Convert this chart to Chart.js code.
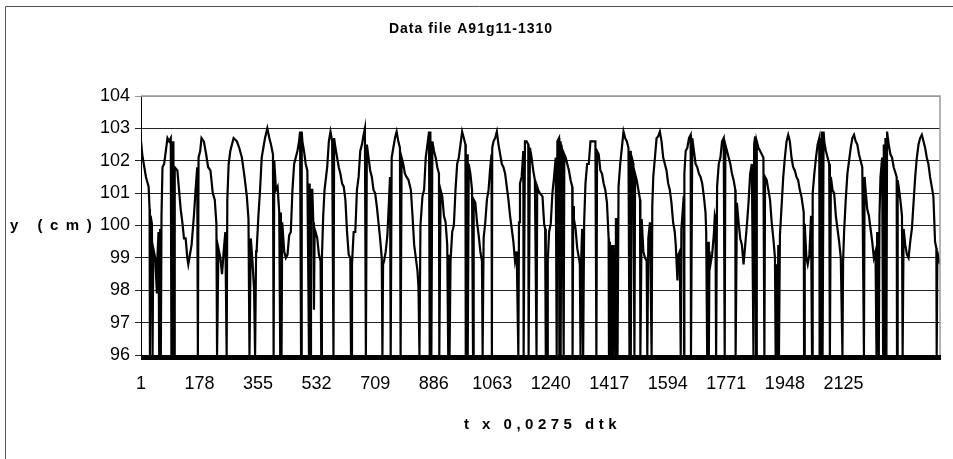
<!DOCTYPE html>
<html lang="en">
<head>
  <meta charset="UTF-8" />
  <title>Data file A91g11-1310</title>
  <script src="https://cdn.jsdelivr.net/npm/chart.js"></script>
  <style>
    html, body { margin: 0; padding: 0; background: #fff; }
    #wrap { width: 953px; height: 459px; }
  </style>
</head>
<body>
  <div id="wrap"><canvas id="waveChart" width="953" height="459"></canvas></div>

  <script>
    // samples (sample number, level in cm); 96 = drop-out
    const sampleNo = [
      1, 6, 11, 16, 24, 27, 28, 30, 34, 36, 38, 44, 49, 51, 54, 56, 59, 61, 63, 66, 71, 76, 81, 86, 91, 93, 95, 97, 99, 101, 103, 111, 116, 121, 126, 131, 136, 141, 144, 149, 154, 161, 166, 171, 173, 175, 180, 184, 191, 198, 204, 211, 218, 224, 229, 231, 235, 241, 246, 251, 256, 260, 262, 266, 271, 281, 291, 298, 306, 314, 321, 326, 329, 333, 338, 343, 346, 349, 351, 356, 361, 366, 371, 376, 383, 389,
      394, 400, 402, 404, 409, 414, 419, 422, 424, 426, 428, 434, 439, 444, 449, 454, 459, 464, 469, 474, 479, 482, 485, 487, 489, 494, 499, 504, 509, 511, 513, 515, 519, 522, 524, 526, 529, 534, 539, 544, 546, 548, 552, 556, 564, 569, 574, 579, 583, 585, 589, 594, 599, 604, 609, 614, 619, 624, 629, 634, 636, 639, 644, 649, 654, 659, 664, 669, 674, 678, 681, 684, 689, 694, 699, 704, 709, 714, 719, 724, 729, 731, 733, 736, 741, 746, 751, 754, 756, 759, 764, 769, 774, 779, 784, 786, 789, 794, 799, 804,
      810, 817, 822, 827, 832, 837, 840, 843, 846, 852, 857, 862, 867, 872, 874, 876, 879, 882, 887, 892, 897, 902, 903, 907, 912, 917, 922, 927, 930, 932, 934, 937, 942, 947, 952, 957, 962, 967, 972, 977, 982, 983, 987, 989, 992, 997, 1002, 1005, 1007, 1012, 1017, 1022, 1027, 1032, 1034, 1037, 1042, 1047, 1052, 1057, 1061, 1062, 1063, 1067, 1072, 1077, 1082, 1087, 1092, 1097, 1102, 1107, 1112, 1117, 1122, 1127, 1132, 1137, 1142, 1144, 1147, 1152, 1157, 1158, 1162, 1167, 1172, 1173, 1177, 1182, 1187, 1192, 1197, 1199, 1202, 1207,
      1215, 1220, 1223, 1225, 1227, 1229, 1231, 1235, 1240, 1245, 1250, 1255, 1258, 1260, 1265, 1266, 1268, 1270, 1272, 1275, 1279, 1281, 1285, 1290, 1295, 1300, 1305, 1306, 1308, 1310, 1315, 1320, 1325, 1328, 1330, 1332, 1335, 1338, 1341, 1345, 1350, 1355, 1360, 1365, 1370, 1375, 1378, 1380, 1385, 1390, 1395, 1400, 1405, 1410, 1415, 1416, 1419, 1422, 1425, 1428, 1430, 1435, 1437, 1440, 1442, 1445, 1450, 1455, 1460, 1465, 1470, 1475, 1478, 1480, 1482, 1485, 1490, 1493, 1495, 1500, 1505, 1510, 1511, 1515, 1520, 1525, 1530, 1532, 1535, 1540, 1545, 1547, 1550, 1555, 1560, 1565, 1570, 1575, 1580, 1585, 1590, 1595, 1600, 1605, 1610, 1615,
      1618, 1623, 1626, 1630, 1633, 1635, 1638, 1642, 1643, 1644, 1648, 1653, 1658, 1663, 1664, 1668, 1673, 1678, 1683, 1688, 1693, 1698, 1703, 1708, 1710, 1713, 1716, 1718, 1720, 1723, 1728, 1733, 1736, 1738, 1740, 1743, 1748, 1753, 1758, 1763, 1766, 1768, 1773, 1778, 1783, 1788, 1793, 1798, 1799, 1803, 1808, 1813, 1818, 1823, 1828, 1833, 1838, 1843, 1848, 1853, 1855, 1858, 1861, 1863, 1868, 1873, 1878, 1883, 1886, 1888, 1893, 1898, 1903, 1908, 1913, 1918, 1920, 1923, 1925, 1928, 1930, 1933, 1938, 1943, 1948, 1953, 1958, 1963, 1968, 1973, 1978, 1983, 1988, 1993, 1998, 2005, 2006, 2008, 2013,
      2017, 2022, 2027, 2030, 2032, 2037, 2042, 2047, 2052, 2053, 2055, 2057, 2060, 2062, 2065, 2067, 2072, 2077, 2082, 2084, 2087, 2092, 2097, 2102, 2107, 2112, 2117, 2122, 2124, 2127, 2132, 2137, 2142, 2147, 2152, 2157, 2162, 2167, 2172, 2177, 2182, 2187, 2189, 2192, 2197, 2202, 2207, 2212, 2217, 2222, 2225, 2227, 2232, 2234, 2237, 2242, 2245, 2247, 2250, 2252, 2255, 2257, 2262, 2267, 2272, 2277, 2286, 2287, 2289, 2292, 2297, 2302, 2304, 2307, 2312, 2317, 2322, 2327, 2332, 2337, 2342, 2347, 2352, 2357, 2362, 2367, 2372, 2377, 2382, 2387, 2392, 2397, 2402, 2406, 2407, 2409, 2412, 2417
    ];
    const levelCm = [
      102.6, 102.1, 101.8, 101.5, 101.2, 100.5, 96, 100.3, 100.05, 96, 99.3, 99.0, 97.9, 99.1, 99.8, 96, 99.9, 96, 100.3, 101.8, 101.9, 102.3, 102.7, 102.6, 102.7, 96, 102.6, 96, 102.6, 96, 101.8, 101.7, 101.1, 100.5, 100.1, 99.6, 99.6, 99.0, 98.8, 99.1, 99.4, 100.3, 101.1, 101.8, 96, 102.1, 102.3, 102.7, 102.6, 102.2, 101.8, 101.7, 101.0, 100.8, 100.05, 96, 99.3, 99.0, 98.5, 99.2, 99.8, 96, 100.8, 101.9, 102.3, 102.7, 102.6, 102.4, 102.1, 101.5, 100.9, 100.2, 96, 99.6, 98.9, 98.0, 96, 99.2, 99.3, 100.3, 101.1, 102.1, 102.4, 102.7, 103.0, 102.7,
      102.5, 102.2, 96, 102.0, 101.1, 101.2, 100.4, 96, 100.4, 96, 100.1, 99.2, 99.0, 99.1, 99.7, 99.8, 101.1, 101.9, 102.1, 102.3, 102.6, 102.9, 96, 102.9, 102.6, 102.3, 101.9, 101.7, 96, 101.3, 96, 101.1, 101.1, 100.1, 97.4, 99.9, 99.8, 99.6, 99.1, 98.9, 96, 99.0, 100.3, 101.1, 101.8, 102.6, 102.9, 102.6, 96, 102.7, 102.4, 102.1, 101.8, 101.6, 101.3, 101.2, 100.8, 99.8, 99.1, 99.0, 96, 98.8, 99.8, 99.8, 101.1, 101.5, 102.3, 102.5, 102.8, 103.0, 96, 102.5, 102.1, 101.7, 101.5, 101.1, 101.0, 100.6, 100.1, 99.6, 99.0, 96, 98.8, 98.9, 99.2, 99.7, 100.8, 101.5, 96, 102.1, 102.4, 102.7, 102.9, 102.6, 102.4, 96, 102.1, 101.9, 101.6, 101.5,
      101.4, 101.1, 100.3, 99.4, 99.0, 98.6, 98.1, 96, 100.0, 100.9, 101.1, 102.1, 102.5, 102.9, 96, 102.9, 96, 102.6, 102.3, 102.1, 101.8, 101.6, 96, 101.1, 100.9, 100.3, 100.1, 99.4, 96, 99.1, 96, 98.9, 99.8, 100.0, 101.1, 101.9, 102.1, 102.5, 102.9, 102.7, 102.5, 96, 102.2, 96, 101.9, 101.6, 101.1, 96, 100.8, 100.7, 100.1, 99.7, 99.2, 98.9, 96, 99.6, 100.1, 100.8, 101.1, 101.8, 102.2, 96, 102.4, 102.6, 102.7, 102.9, 102.5, 102.2, 101.9, 101.8, 101.6, 101.2, 100.8, 100.3, 99.9, 99.5, 98.9, 99.2, 96, 100.1, 101.3, 101.5, 102.3, 96, 102.6, 102.6, 102.5, 96, 102.4, 102.1, 101.7, 101.4, 96, 101.2, 101.1, 101.0,
      100.9, 100.05, 99.9, 96, 98.9, 96, 98.9, 99.8, 100.05, 101.0, 101.5, 102.1, 96, 102.6, 102.7, 96, 102.6, 96, 102.5, 102.3, 96, 102.2, 102.1, 101.9, 101.7, 101.4, 101.2, 96, 100.6, 100.2, 99.9, 99.3, 99.0, 98.8, 96, 98.9, 99.9, 96, 100.1, 101.3, 101.9, 101.9, 102.6, 102.6, 102.6, 102.6, 96, 102.3, 102.2, 101.7, 101.6, 101.3, 101.1, 100.7, 99.6, 96, 99.5, 96, 99.4, 96, 99.4, 96, 100.2, 100.2, 96, 101.2, 101.9, 102.4, 102.9, 102.7, 102.6, 102.4, 96, 102.3, 96, 102.1, 101.9, 96, 101.6, 101.4, 101.1, 100.8, 96, 100.2, 99.2, 99.0, 98.9, 96, 99.6, 100.1, 96, 100.6, 101.5, 102.1, 102.7, 102.75, 102.9, 102.6, 102.1, 101.9, 101.7, 101.3, 101.1, 100.7, 100.1, 99.8,
      99.4, 98.3, 99.1, 99.2, 96, 99.9, 100.3, 100.9, 96, 101.6, 102.3, 102.4, 102.7, 102.8, 96, 102.7, 102.3, 101.9, 101.8, 101.6, 101.5, 101.3, 100.9, 100.4, 99.8, 96, 99.5, 96, 99.2, 98.8, 99.1, 99.7, 100.3, 100.2, 96, 101.2, 101.9, 102.1, 102.6, 102.7, 96, 102.5, 102.3, 102.1, 101.9, 101.6, 101.4, 101.1, 96, 100.7, 100.1, 99.6, 99.4, 98.8, 99.4, 100.0, 100.7, 101.6, 101.9, 96, 102.5, 102.75, 96, 102.6, 102.4, 102.3, 102.2, 102.1, 96, 101.5, 101.4, 101.1, 100.8, 100.1, 99.6, 99.0, 96, 98.8, 96, 99.4, 96, 99.7, 100.6, 101.5, 102.1, 102.6, 102.8, 102.6, 102.1, 101.8, 101.7, 101.5, 101.4, 101.1, 100.9, 100.4, 96, 100.05, 99.0,
      98.8, 99.1, 100.3, 96, 101.0, 101.6, 102.1, 102.5, 102.7, 96, 102.7, 96, 102.9, 96, 102.9, 102.6, 102.3, 102.1, 101.9, 96, 101.5, 101.1, 101.0, 100.3, 99.9, 99.5, 99.0, 96, 98.9, 99.8, 100.8, 101.6, 102.0, 102.4, 102.7, 102.8, 102.6, 102.5, 102.2, 102.0, 101.8, 96, 101.5, 101.1, 100.5, 100.3, 99.9, 99.5, 99.0, 99.2, 96, 99.8, 96, 100.3, 101.5, 102.1, 96, 102.5, 96, 102.7, 96, 102.9, 102.5, 102.2, 102.1, 101.8, 101.5, 96, 101.4, 101.2, 100.8, 100.3, 96, 99.9, 99.4, 99.1, 99.0, 99.5, 99.9, 100.7, 101.5, 102.1, 102.5, 102.7, 102.8, 102.6, 102.4, 102.1, 101.9, 101.5, 101.2, 100.9, 99.5, 99.3, 96, 99.2, 99.0, 98.8
    ];

    const sampleCount = 2417;
    const xTickLabels = [1, 178, 355, 532, 709, 886, 1063, 1240, 1417, 1594, 1771, 1948, 2125];
    const yTicks = [96, 97, 98, 99, 100, 101, 102, 103, 104];

    const chartTitle = "Data file A91g11-1310";
    const xTitle = "t x 0,0275 dtk";
    const yTitle = "y (cm)";

    const FONT = "'Liberation Sans', Arial, sans-serif";

    const points = sampleNo.map((n, i) => ({ x: n, y: levelCm[i] }));

    // outer frame + gray plot border, like the Excel chart
    const framePlugin = {
      id: "frame",
      beforeDraw(chart) {
        const c = chart.ctx;
        c.save();
        c.fillStyle = "#fff";
        c.fillRect(0, 0, chart.width, chart.height);
        c.strokeStyle = "#555";
        c.lineWidth = 1;
        c.beginPath();
        c.moveTo(5.5, chart.height + 2);
        c.lineTo(5.5, 6.5);
        c.lineTo(chart.width + 2, 6.5);
        c.stroke();
        c.restore();
      },
      afterDatasetsDraw(chart) {
        const a = chart.chartArea;
        const c = chart.ctx;
        c.save();
        c.strokeStyle = "#9a9a9a";
        c.lineWidth = 1.5;
        c.beginPath();
        c.moveTo(a.left, a.top);
        c.lineTo(a.right, a.top);
        c.lineTo(a.right, a.bottom);
        c.stroke();
        c.restore();
      }
    };

    // titles with the wide letter spacing of the original
    const textPlugin = {
      id: "texts",
      afterDraw(chart) {
        const a = chart.chartArea;
        const c = chart.ctx;
        c.save();
        c.fillStyle = "#000";
        c.textBaseline = "middle";

        c.font = "bold 14px " + FONT;
        c.letterSpacing = "1px";
        c.textAlign = "center";
        c.fillText(chartTitle, 471, 29);

        c.font = "bold 15px " + FONT;
        c.letterSpacing = "4.5px";
        c.fillText(xTitle, (a.left + a.right) / 2 + 2, 425);

        c.letterSpacing = "7.5px";
        c.textAlign = "left";
        c.fillText(yTitle, 10, chart.scales.y.getPixelForValue(100));
        c.restore();
      }
    };

    new Chart(document.getElementById("waveChart"), {
      type: "line",
      data: {
        datasets: [{
          data: points,
          borderColor: "#000",
          borderWidth: 2.2,
          pointRadius: 0,
          tension: 0,
          fill: false
        }]
      },
      options: {
        responsive: false,
        animation: false,
        parsing: false,
        layout: { padding: { top: 96, right: 6, left: 0, bottom: 0 } },
        plugins: {
          legend: { display: false },
          title: { display: false },
          tooltip: { enabled: false }
        },
        scales: {
          x: {
            type: "linear",
            min: 1,
            max: sampleCount,
            afterBuildTicks(scale) {
              const t = [];
              for (let v = 1; v <= sampleCount; v++) t.push({ value: v });
              scale.ticks = t;
            },
            afterFit(scale) { scale.height = 104; },
            border: { color: "#000", width: 1 },
            grid: {
              drawOnChartArea: false,
              drawTicks: true,
              tickLength: 5,
              color: "#000",
              lineWidth: 1
            },
            ticks: {
              autoSkip: false,
              maxRotation: 0,
              minRotation: 0,
              padding: 13,
              color: "#000",
              font: { family: FONT, size: 18 },
              callback: v => (xTickLabels.includes(v) ? String(v) : "")
            }
          },
          y: {
            min: 96,
            max: 104,
            afterBuildTicks(scale) {
              scale.ticks = yTicks.map(v => ({ value: v }));
            },
            afterFit(scale) { scale.width = 141; },
            border: { color: "#000", width: 1 },
            grid: {
              color: ctx => (ctx.tick && ctx.tick.value === 104 ? "#9a9a9a" : "#222"),
              lineWidth: 1,
              tickLength: 6
            },
            ticks: {
              padding: 5,
              color: "#000",
              font: { family: FONT, size: 18 }
            }
          }
        }
      },
      plugins: [framePlugin, textPlugin]
    });
  </script>
</body>
</html>
